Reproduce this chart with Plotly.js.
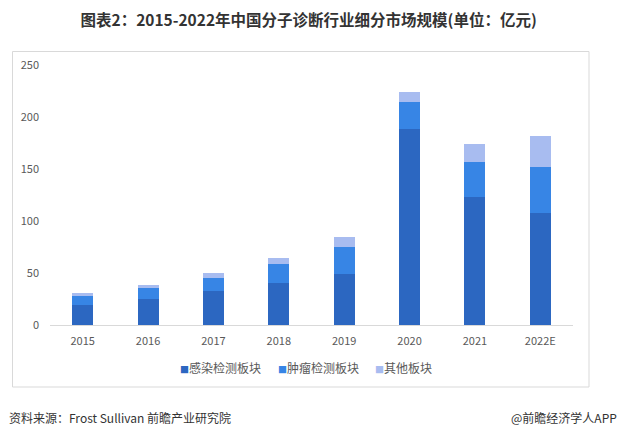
<!DOCTYPE html>
<html>
<head>
<meta charset="utf-8">
<script src="https://cdn.plot.ly/plotly-3.0.1.min.js"></script>
<style>html,body{margin:0;padding:0;background:#fff;}#chart{width:621px;height:438px;}</style>
</head>
<body>
<div id="chart"></div>
<script>
const years = ['2015','2016','2017','2018','2019','2020','2021','2022E'];
const infection = [19.2, 25.3, 33.0, 40.7, 49.4, 188.8, 123.4, 107.7];
const tumor = [8.7, 10.3, 12.2, 18.0, 25.9, 25.6, 33.3, 44.5];
const other = [2.5, 2.9, 4.8, 5.7, 9.3, 9.6, 17.3, 29.5];
const seriesNames = ['感染检测板块', '肿瘤检测板块', '其他板块'];
const tickVals = [0, 50, 100, 150, 200, 250];

const cjk = '"Noto Sans CJK SC", "Noto Sans", sans-serif';
const colors = ['#2c67c1', '#3785e5', '#a8bcf0'];
const data = [infection, tumor, other].map((vals, i) => ({
  type: 'bar', x: years, y: vals, name: seriesNames[i],
  marker: {color: colors[i], line: {width: 0}},
  hoverinfo: 'x+y+name', showlegend: false
}));

// plot area: x 50..573, y 65..325
const L = 50, R = 573, T = 65, B = 325;
const px = v => (v - L) / (R - L);
const py = v => (B - v) / (B - T);

// compact legend entries (reference style: small square glued to text)
const legendStarts = [178, 276, 373];
const legendAnns = seriesNames.map((n, i) => ({
  text: '<span style="font-size:9px;color:' + colors[i] + '">■</span>' + n,
  xref: 'paper', yref: 'paper', x: px(legendStarts[i]), xanchor: 'left',
  y: py(367), yanchor: 'middle', showarrow: false,
  font: {size: 12, color: '#595959', family: cjk}
}));

const layout = {
  width: 621, height: 438,
  margin: {l: L, r: 621 - R, t: T, b: 438 - B, pad: 0},
  paper_bgcolor: '#ffffff', plot_bgcolor: '#ffffff',
  barmode: 'stack', bargap: 0.68,
  font: {family: cjk, color: '#595959', size: 11},
  title: {
    text: '<b>图表2：2015-2022年中国分子诊断行业细分市场规模(单位：亿元)</b>',
    font: {family: cjk, size: 15.5, color: '#333333'},
    x: 0.497, xref: 'container', xanchor: 'center',
    y: 1 - 21 / 438, yref: 'container', yanchor: 'middle'
  },
  xaxis: {
    type: 'category', showgrid: false, zeroline: false,
    showline: true, linecolor: '#d9d9d9', linewidth: 1,
    ticks: '', tickfont: {size: 11, color: '#595959'},
    ticklabelstandoff: 6
  },
  yaxis: {
    range: [0, 250], tickvals: tickVals, showgrid: false, zeroline: false,
    showline: false, ticks: '', tickfont: {size: 11, color: '#595959'},
    ticklabelstandoff: 10
  },
  showlegend: false,
  shapes: [{
    type: 'rect', xref: 'paper', yref: 'paper', layer: 'below',
    x0: px(12.5), x1: px(589), y0: py(387), y1: py(51.5),
    line: {color: '#d9d9d9', width: 1}, fillcolor: 'rgba(0,0,0,0)'
  }],
  annotations: legendAnns.concat([
    {text: '资料来源：Frost Sullivan 前瞻产业研究院', xref: 'paper', yref: 'paper',
     x: px(7), xanchor: 'left', y: py(417), yanchor: 'middle', showarrow: false,
     font: {size: 12, color: '#333333', family: cjk}},
    {text: '@前瞻经济学人APP', xref: 'paper', yref: 'paper',
     x: px(619), xanchor: 'right', y: py(417), yanchor: 'middle', showarrow: false,
     font: {size: 12, color: '#333333', family: cjk}}
  ])
};

Plotly.newPlot('chart', data, layout, {displayModeBar: false, staticPlot: true});
</script>
</body>
</html>
